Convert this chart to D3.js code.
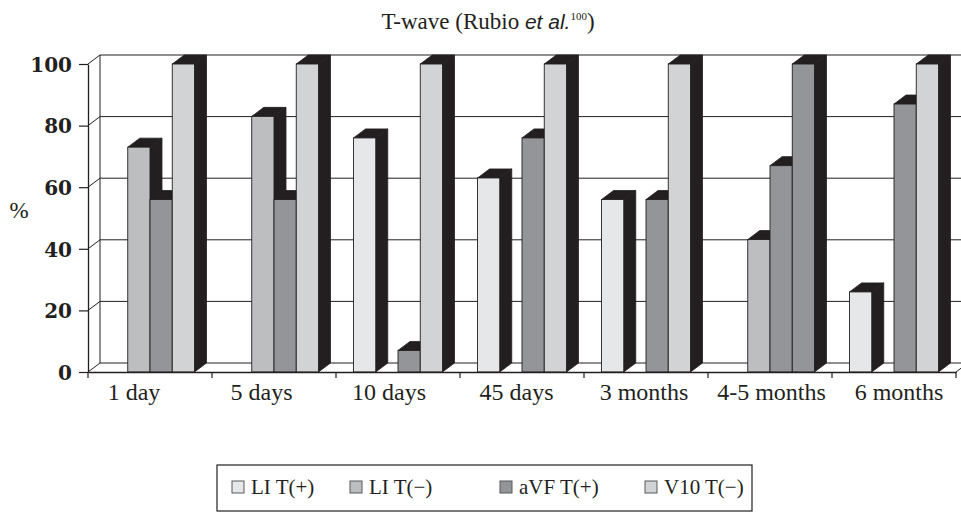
<!DOCTYPE html>
<html>
<head>
<meta charset="utf-8">
<script src="https://cdn.jsdelivr.net/npm/d3@7"></script>
<style>
  body { margin: 0; background: #fff; }
  svg { display: block; }
</style>
</head>
<body>
<svg id="chart" width="961" height="513"></svg>
<script>
// chart data
const categories = ['1 day', '5 days', '10 days', '45 days', '3 months', '4-5 months', '6 months'];
const seriesNames = ['LI T(+)', 'LI T(\u2212)', 'aVF T(+)', 'V10 T(\u2212)'];
const liTPos = [0, 0, 76, 63, 56, 0, 26];
const liTNeg = [73, 83, 0, 0, 0, 43, 0];
const avfTPos = [56, 56, 7, 76, 56, 67, 87];
const v10TNeg = [100, 100, 100, 100, 100, 100, 100];
const yTicks = [0, 20, 40, 60, 80, 100];

// styling
const fills = ['#e6e7e8', '#bcbec0', '#939598', '#d1d3d4'];
const dark = '#231f20';
// in the reference the 4-5 months V10 bar is printed in the aVF shade
const fillOverride = { '4-5 months|3': '#939598' };
const depthX = 12, depthY = 9;

const svg = d3.select('#chart');
const serif = '"Liberation Serif", "Times New Roman", serif';

const x = d3.scaleBand().domain(categories).range([88, 956]).paddingInner(0).paddingOuter(0);
const xInner = d3.scaleBand().domain(d3.range(seriesNames.length)).range([17.5, 106.5]);
const y = d3.scaleLinear().domain([0, 100]).range([372, 64]);
// category labels sit on a slightly wider spacing than the bars
const xLabel = d3.scalePoint().domain(categories).range([134, 899]);

const seriesValues = [liTPos, liTNeg, avfTPos, v10TNeg];
const bars = [];
categories.forEach((c, i) => {
  seriesValues.forEach((vals, s) => {
    if (vals[i] > 0) bars.push({ cat: c, s: s, v: vals[i] });
  });
});

// back wall + gridlines
const grid = svg.append('g').attr('stroke', dark).attr('stroke-width', 1).attr('fill', 'none');
const x0 = x.range()[0], x1 = x.range()[1];
yTicks.forEach(t => {
  const yy = y(t);
  grid.append('line').attr('x1', x0 + depthX).attr('x2', x1 + depthX + 20)
    .attr('y1', yy - depthY).attr('y2', yy - depthY);
  grid.append('line').attr('x1', x0).attr('x2', x0 + depthX)
    .attr('y1', yy).attr('y2', yy - depthY);
});
grid.append('line').attr('x1', x0 + depthX).attr('x2', x0 + depthX)
  .attr('y1', y(100) - depthY).attr('y2', y(0) - depthY);
grid.append('line').attr('x1', x1).attr('x2', x1 + depthX)
  .attr('y1', y(0)).attr('y2', y(0) - depthY);

// bars, left to right so each front face hides the previous side
const barG = svg.append('g');
bars.forEach(b => {
  const bx = x(b.cat) + xInner(b.s);
  const bw = xInner.bandwidth();
  const top = y(b.v), base = y(0);
  const fill = fillOverride[b.cat + '|' + b.s] || fills[b.s];
  barG.append('path')
    .attr('d', `M${bx + bw},${top}L${bx + bw + depthX},${top - depthY}L${bx + bw + depthX},${base - depthY}L${bx + bw},${base}Z`)
    .attr('fill', dark).attr('stroke', dark).attr('stroke-width', 0.8);
  barG.append('path')
    .attr('d', `M${bx},${top}L${bx + depthX},${top - depthY}L${bx + bw + depthX},${top - depthY}L${bx + bw},${top}Z`)
    .attr('fill', dark).attr('stroke', dark).attr('stroke-width', 0.8);
  barG.append('rect')
    .attr('x', bx).attr('y', top).attr('width', bw).attr('height', base - top)
    .attr('fill', fill).attr('stroke', dark).attr('stroke-width', 0.9);
});

// front axes
const yAxis = d3.axisLeft(y).tickValues(yTicks).tickSize(9).tickSizeOuter(0).tickFormat(d3.format('d'));
const yg = svg.append('g').attr('transform', `translate(${x0},0)`).call(yAxis);
yg.select('.domain').attr('stroke', dark).attr('stroke-width', 1.3);
yg.selectAll('.tick line').attr('stroke', dark).attr('stroke-width', 1.2);
yg.selectAll('.tick text')
  .attr('x', -16).attr('dy', '0.36em')
  .attr('fill', dark).style('font-family', '"DejaVu Serif", serif').style('font-size', '20px').style('font-weight', 'bold');

const xAxis = d3.axisBottom(x).tickSize(0).tickSizeOuter(0).tickFormat(() => '');
const xg = svg.append('g').attr('transform', `translate(0,${y(0)})`).call(xAxis);
xg.select('.domain').attr('stroke', dark).attr('stroke-width', 1.3);
svg.append('g').selectAll('text').data(categories).enter().append('text')
  .attr('x', d => xLabel(d)).attr('y', 400).attr('text-anchor', 'middle')
  .attr('fill', dark).style('font-family', serif).style('font-size', '24px').text(d => d);
// category separator ticks
const sepG = svg.append('g').attr('stroke', dark).attr('stroke-width', 1.2);
categories.concat([null]).forEach(c => {
  const xx = c === null ? x1 : x(c);
  sepG.append('line').attr('x1', xx).attr('x2', xx).attr('y1', y(0)).attr('y2', y(0) + 6);
});

// axis title
svg.append('text').attr('x', 19).attr('y', 218).attr('text-anchor', 'middle')
  .attr('fill', dark).style('font-family', serif).style('font-size', '23px').text('%');

// chart title
const title = svg.append('text').attr('x', 488).attr('y', 29).attr('text-anchor', 'middle')
  .attr('fill', dark).style('font-family', serif).style('font-size', '23px');
title.append('tspan').text('T-wave (Rubio ');
title.append('tspan').style('font-family', '"Liberation Sans", Arial, sans-serif').style('font-style', 'italic')
  .style('font-size', '21px').text('et al.');
title.append('tspan').attr('dy', -9).style('font-size', '11px').text('100');
title.append('tspan').attr('dy', 9).text(')');

// legend
const legendX = [232, 350, 500, 645];
const legend = svg.append('g');
legend.append('rect')
  .attr('x', 217).attr('y', 465).attr('width', 535).attr('height', 46)
  .attr('fill', 'none').attr('stroke', dark).attr('stroke-width', 1.2);
const items = legend.selectAll('g').data(seriesNames).enter().append('g')
  .attr('transform', (d, i) => `translate(${legendX[i]},481)`);
items.append('rect').attr('width', 12).attr('height', 12)
  .attr('fill', (d, i) => fills[i]).attr('stroke', '#58595b').attr('stroke-width', 1);
items.append('text').attr('x', 19).attr('y', 13)
  .attr('fill', dark).style('font-family', serif).style('font-size', '21px').text(d => d);
</script>
</body>
</html>
